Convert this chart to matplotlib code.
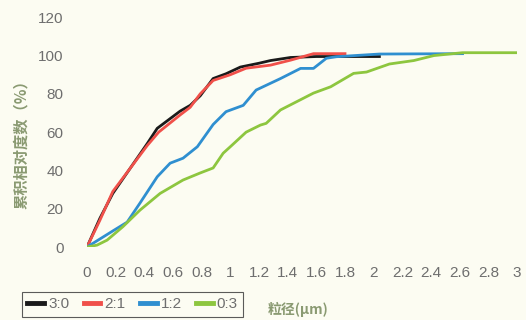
import matplotlib
matplotlib.use("Agg")
import matplotlib.pyplot as plt

# cumulative distribution
x_30 = [0, 0.09, 0.18, 0.30, 0.42, 0.49, 0.65, 0.72, 0.79, 0.88, 0.97, 1.07, 1.2, 1.28, 1.42, 1.6, 1.8, 2.04]
y_30 = [0, 15, 28, 41, 54, 62, 71, 74, 79, 88, 90.5, 94, 96, 97.4, 99, 99.5, 99.5, 99.5]

x_21 = [0, 0.09, 0.18, 0.30, 0.42, 0.5, 0.65, 0.72, 0.79, 0.88, 1.0, 1.11, 1.28, 1.42, 1.51, 1.58, 1.8]
y_21 = [0, 14, 29, 41, 53, 60, 69, 73, 80, 87, 90, 93.4, 95, 97.6, 99.5, 101, 101]

x_12 = [0, 0.18, 0.28, 0.37, 0.49, 0.58, 0.67, 0.77, 0.88, 0.97, 1.09, 1.18, 1.35, 1.49, 1.58, 1.67, 1.74, 2.04, 2.62]
y_12 = [0, 8.4, 13, 23, 36.7, 43.8, 46.4, 52.4, 64, 70.7, 74, 82, 88, 93.3, 93.3, 98.6, 99.4, 100.8, 101]

x_03 = [0, 0.07, 0.14, 0.25, 0.37, 0.51, 0.67, 0.79, 0.88, 0.95, 1.0, 1.11, 1.21, 1.25, 1.35, 1.58, 1.70,
        1.86, 1.95, 2.11, 2.28, 2.42, 2.62, 3.0]
y_03 = [0, 1, 3.6, 10.6, 19.3, 28, 35, 38.7, 41.3, 49, 52.4, 60, 63.7, 64.6, 71.6, 80.4, 83.7,
        90.7, 91.4, 95.6, 97.4, 100, 101.5, 101.5]

labels = ["3:0", "2:1", "1:2", "0:3"]
colors = ["#1a1a1a", "#f0504a", "#2f8fd0", "#8dc63f"]

x_ticks = [0, 0.2, 0.4, 0.6, 0.8, 1, 1.2, 1.4, 1.6, 1.8, 2, 2.2, 2.4, 2.6, 2.8, 3]
x_ticklabels = ["0", "0.2", "0.4", "0.6", "0.8", "1", "1.2", "1.4", "1.6", "1.8", "2",
                "2.2", "2.4", "2.6", "2.8", "3"]
y_ticks = [0, 20, 40, 60, 80, 100, 120]

bg = "#fcfcf2"
tick_color = "#6e6e6e"
label_color = "#8a9a72"
cjk = ["Noto Sans CJK SC", "DejaVu Sans"]

fig = plt.figure(figsize=(5.26, 3.2), dpi=100)
fig.patch.set_facecolor(bg)
ax = fig.add_axes([0.1654, 0.228, 0.8175, 0.718])
ax.set_facecolor(bg)

series = [(x_30, y_30), (x_21, y_21), (x_12, y_12), (x_03, y_03)]
handles = []
for (xs, ys), lab, col in zip(series, labels, colors):
    h, = ax.plot(xs, ys, color=col, lw=2.0, label=lab, solid_joinstyle="round")
    handles.append(h)

ax.set_xlim(0, 3)
ax.set_ylim(0, 120)
ax.set_xticks(x_ticks)
ax.set_xticklabels(x_ticklabels)
ax.set_yticks(y_ticks)
for s in ax.spines.values():
    s.set_visible(False)
ax.tick_params(axis="both", length=0, colors=tick_color, labelsize=11)
ax.tick_params(axis="x", pad=14)
ax.tick_params(axis="y", pad=17)
for t in ax.get_xticklabels() + ax.get_yticklabels():
    t.set_fontfamily("Liberation Sans")

fig.text(21 / 526, 1 - 141 / 320, "累积相对度数（%）", rotation=90, ha="center", va="center",
         fontsize=11, color=label_color, family=cjk, fontweight="bold")
fig.text(298 / 526, 1 - 309 / 320, "粒径(μm)", ha="center", va="center",
         fontsize=10, color=label_color, family=cjk, fontweight="bold")

leg = fig.legend(handles=handles, loc="upper left", bbox_to_anchor=(22 / 526, 1 - 292 / 320),
                 ncol=4, frameon=True, fancybox=False, handlelength=1.1, handletextpad=0.25,
                 columnspacing=0.95, borderpad=0.35, borderaxespad=0,
                 prop={"family": "Liberation Sans", "size": 11})
leg.get_frame().set_edgecolor("#333333")
leg.get_frame().set_facecolor(bg)
leg.get_frame().set_linewidth(0.8)
for t in leg.get_texts():
    t.set_color(tick_color)
for h in leg.legend_handles:
    h.set_linewidth(3.5)

fig.savefig("out.png", dpi=100, facecolor=bg)
